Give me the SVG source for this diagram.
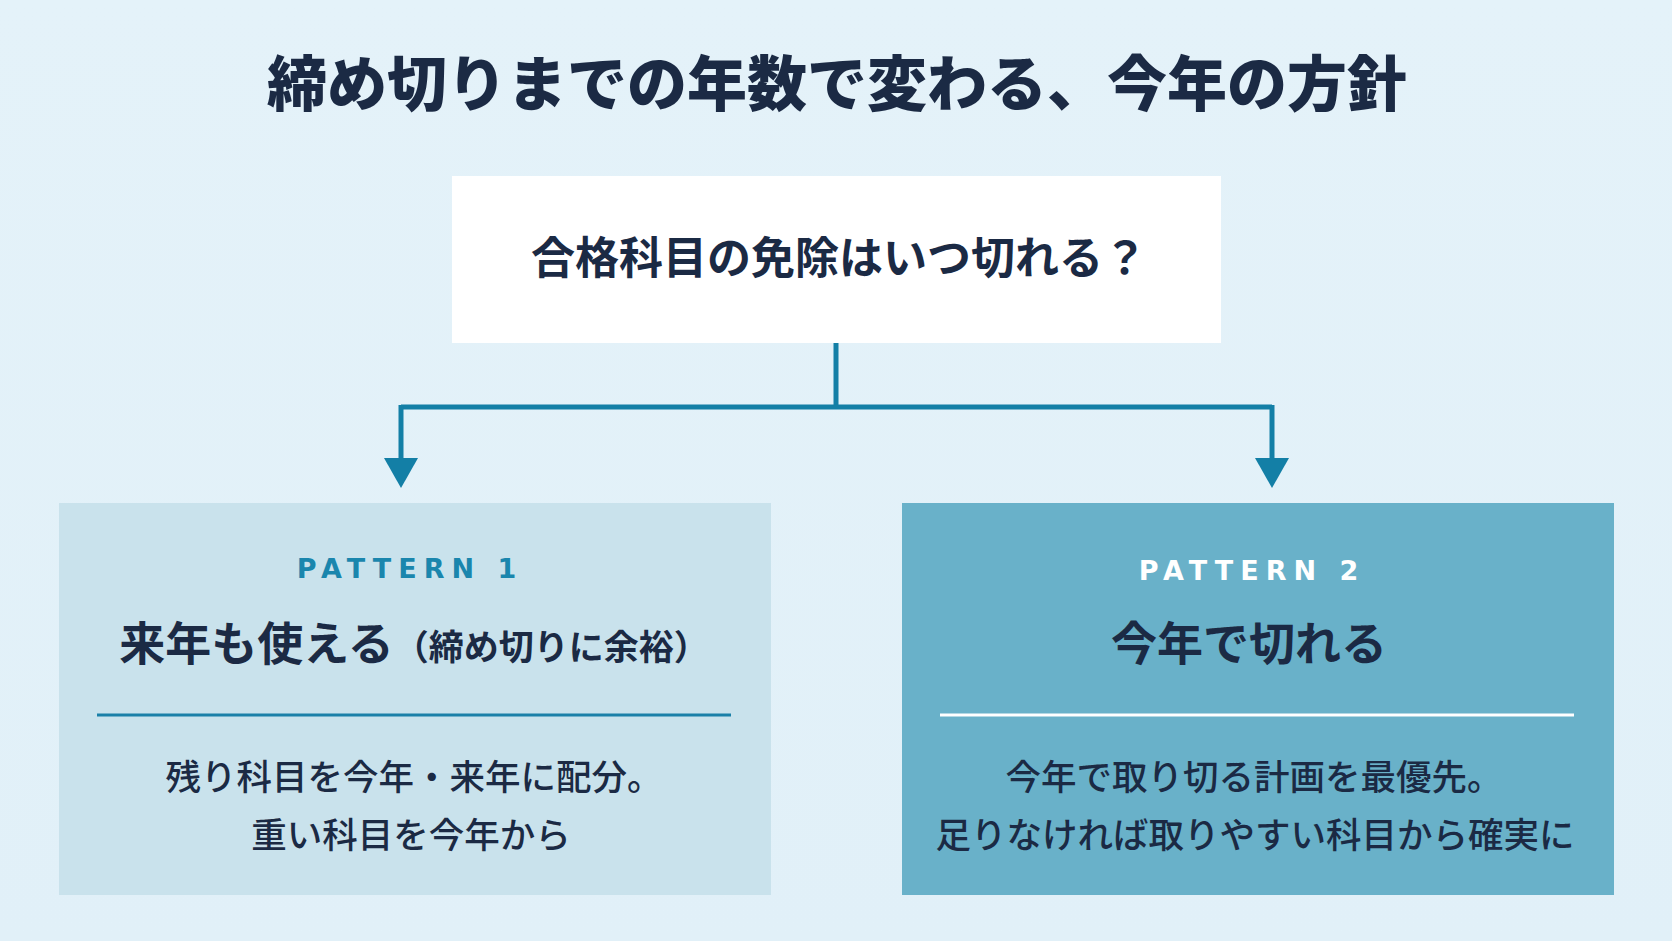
<svg xmlns="http://www.w3.org/2000/svg" width="1672" height="941" viewBox="0 0 1672 941">
<defs>
<linearGradient id="bg" x1="0" y1="0" x2="0" y2="1">
<stop offset="0" stop-color="#e4f2f9"/>
<stop offset="1" stop-color="#e1f0f8"/>
</linearGradient>
<marker id="arr" markerUnits="userSpaceOnUse" markerWidth="32" markerHeight="36" viewBox="0 0 32 36" refX="2" refY="18" orient="auto">
<path d="M0,1 L30,18 L0,35 Z" fill="#137fa6"/>
</marker>
<style>
.jp{font-family:"Noto Sans CJK JP","Noto Sans CJK SC",sans-serif;fill:#1b2a44;text-anchor:middle}
.ttl{font-size:60px;font-weight:900}
.q{font-size:44px;font-weight:700}
.h{font-size:46px;font-weight:700}
.hs{font-size:35px;font-weight:700}
.b{font-size:35.5px;font-weight:500}
.pat{font-family:"DejaVu Sans","Liberation Sans",sans-serif;font-size:27px;font-weight:700;letter-spacing:7px;text-anchor:middle}
.conn{fill:none;stroke:#137fa6;stroke-width:5}
</style>
</defs>
<rect width="1672" height="941" fill="url(#bg)"/>
<g id="title">
<text class="jp ttl" x="837" y="106">締め切りまでの年数で変わる、今年の方針</text>
</g>
<g id="question">
<rect x="452" y="176" width="769" height="167" fill="#ffffff"/>
<text class="jp q" x="839" y="274">合格科目の免除はいつ切れる？</text>
</g>
<g id="connectors">
<path class="conn" d="M836,343 V407"/>
<path class="conn" d="M401,407 H1272"/>
<path class="conn" d="M401,405 V460" marker-end="url(#arr)"/>
<path class="conn" d="M1272,405 V460" marker-end="url(#arr)"/>
</g>
<g id="pattern1">
<rect x="59" y="503" width="712" height="392" fill="#c9e2ec"/>
<text class="pat" x="410" y="578" fill="#1a86ad">PATTERN 1</text>
<text class="jp h" x="414" y="660">来年も使える<tspan class="hs">（締め切りに余裕）</tspan></text>
<line x1="97" y1="715" x2="731" y2="715" stroke="#1a80a8" stroke-width="3"/>
<text class="jp b" x="414" y="790">残り科目を今年・来年に配分。</text>
<text class="jp b" x="411" y="848">重い科目を今年から</text>
</g>
<g id="pattern2">
<rect x="902" y="503" width="712" height="392" fill="#69b1c9"/>
<text class="pat" x="1252" y="580" fill="#ffffff">PATTERN 2</text>
<text class="jp h" x="1249" y="660">今年で切れる</text>
<line x1="940" y1="715" x2="1574" y2="715" stroke="#ffffff" stroke-width="3"/>
<text class="jp b" x="1254" y="790">今年で取り切る計画を最優先。</text>
<text class="jp b" x="1255" y="848">足りなければ取りやすい科目から確実に</text>
</g>
</svg>
